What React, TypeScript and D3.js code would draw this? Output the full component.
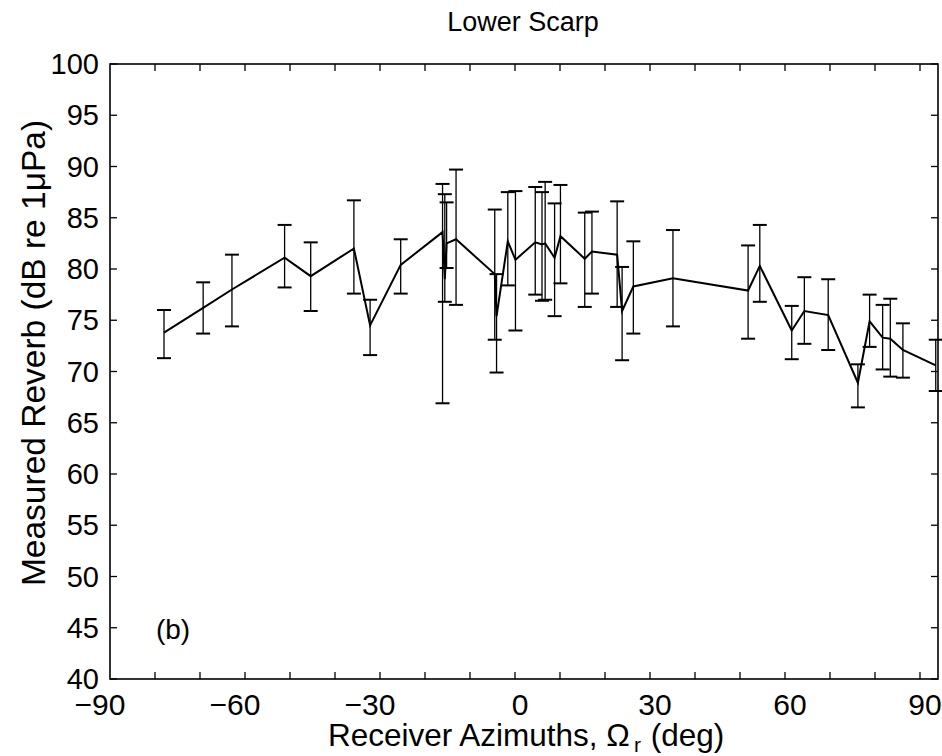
import React from 'react';
import * as d3 from 'd3';

// Receiver azimuth (deg)
const azimuths = [-78.0, -69.3, -62.9, -51.2, -45.4, -35.8, -32.2, -25.4, -16.1, -15.6, -15.2, -13.1, -4.5, -4.1, -1.6, 0.1, 4.5, 6.0, 6.7, 8.8, 10.1, 15.5, 17.1, 22.7, 23.8, 26.3, 35.1, 51.8, 54.4, 61.5, 64.3, 69.6, 76.2, 78.8, 81.7, 83.4, 86.2, 93.5];
// Measured reverb (dB re 1 µPa)
const reverb = [73.8, 76.2, 78.0, 81.1, 79.3, 82.0, 74.5, 80.4, 83.6, 79.0, 82.5, 82.9, 79.5, 75.4, 82.7, 80.9, 82.6, 82.4, 82.5, 81.1, 83.2, 81.0, 81.7, 81.4, 75.9, 78.3, 79.1, 77.9, 80.3, 74.0, 75.9, 75.5, 68.9, 74.9, 73.3, 73.2, 72.1, 70.6];
const upper = [76.0, 78.7, 81.4, 84.3, 82.6, 86.7, 77.0, 82.9, 88.3, 87.3, 86.5, 89.7, 85.8, 79.5, 87.5, 87.6, 88.0, 87.5, 88.5, 86.4, 88.2, 85.5, 85.6, 86.6, 80.2, 82.7, 83.8, 82.3, 84.3, 76.4, 79.2, 79.0, 70.7, 77.5, 76.5, 77.1, 74.7, 73.1];
const lower = [71.3, 73.7, 74.4, 78.2, 75.9, 77.6, 71.6, 77.6, 66.9, 76.8, 80.1, 76.5, 73.1, 69.9, 78.4, 74.0, 77.5, 76.9, 77.0, 75.4, 78.6, 76.3, 77.6, 76.3, 71.1, 73.7, 74.4, 73.2, 76.8, 71.2, 72.7, 72.1, 66.5, 72.4, 70.2, 69.5, 69.4, 68.1];

const xTickLabels = [-90, -60, -30, 0, 30, 60, 90];
const xMinorTicks = d3.range(-80, 91, 10);
const yTickLabels = [40, 45, 50, 55, 60, 65, 70, 75, 80, 85, 90, 95, 100];

const FONT = '"Liberation Sans", Arial, Helvetica, sans-serif';

export default function App() {
  const W = 942, H = 756;
  const left = 110, right = 938, top = 64, bottom = 679;
  const x = d3.scaleLinear().domain([-90, 94]).range([left, right]);
  const y = d3.scaleLinear().domain([40, 100]).range([bottom, top]);
  const pts = azimuths.map((a, i) => [a, reverb[i]] as [number, number]);
  const path = d3.line<[number, number]>().x(d => x(d[0])).y(d => y(d[1]))(pts) || '';
  const tick = 7;
  const cap = 7;
  const fmt = (v: number) => (v < 0 ? '\u2212' + Math.abs(v) : String(v));

  return (
    <svg width={W} height={H} style={{ position: 'absolute', left: 0, top: 0, background: '#fff' }}>
      <rect x={0} y={0} width={W} height={H} fill="#fff" />
      {/* title */}
      <text x={523} y={31} textAnchor="middle" fontFamily={FONT} fontSize={27} fill="#000">Lower Scarp</text>

      {/* axis box */}
      <rect x={left} y={top} width={right - left} height={bottom - top} fill="none" stroke="#000" strokeWidth={1.6} />

      {/* x ticks */}
      {xMinorTicks.map(t => (
        <g key={'xt' + t}>
          <line x1={x(t)} x2={x(t)} y1={bottom} y2={bottom - tick} stroke="#000" strokeWidth={1.3} />
          <line x1={x(t)} x2={x(t)} y1={top} y2={top + tick} stroke="#000" strokeWidth={1.3} />
        </g>
      ))}
      {xTickLabels.map(t => (
        <text key={'xl' + t} x={x(t) + (t < 0 ? -10 : 5)} y={715} textAnchor="middle" fontFamily={FONT} fontSize={30} fill="#000">{fmt(t)}</text>
      ))}

      {/* y ticks */}
      {yTickLabels.map(t => (
        <g key={'yt' + t}>
          <line x1={left} x2={left + tick} y1={y(t)} y2={y(t)} stroke="#000" strokeWidth={1.3} />
          <line x1={right} x2={right - tick} y1={y(t)} y2={y(t)} stroke="#000" strokeWidth={1.3} />
          <text x={99} y={y(t) + 10} textAnchor="end" fontFamily={FONT} fontSize={29} fill="#000">{t}</text>
        </g>
      ))}

      {/* error bars */}
      {azimuths.map((a, i) => (
        <g key={'eb' + i} stroke="#000">
          <line x1={x(a)} x2={x(a)} y1={y(upper[i])} y2={y(lower[i])} strokeWidth={1.3} />
          <line x1={x(a) - cap} x2={x(a) + cap} y1={y(upper[i])} y2={y(upper[i])} strokeWidth={2} />
          <line x1={x(a) - cap} x2={x(a) + cap} y1={y(lower[i])} y2={y(lower[i])} strokeWidth={2} />
        </g>
      ))}

      {/* data line */}
      <path d={path} fill="none" stroke="#000" strokeWidth={2} strokeLinejoin="miter" />

      {/* panel label */}
      <text x={x(-79.8)} y={y(43.9)} fontFamily={FONT} fontSize={28} fill="#000">(b)</text>

      {/* x label */}
      <text x={328} y={746} fontFamily={FONT} fontSize={31.5} fill="#000">
        <tspan>Receiver Azimuths, Ω</tspan>
        <tspan fontSize={21} dx={4} dy={6}>r</tspan>
        <tspan dy={-6} dx={1}> (deg)</tspan>
      </text>

      {/* y label */}
      <text transform={`translate(45, 353) rotate(-90)`} textAnchor="middle" fontFamily={FONT} fontSize={33.5} fill="#000">Measured Reverb (dB re 1μPa)</text>
    </svg>
  );
}
